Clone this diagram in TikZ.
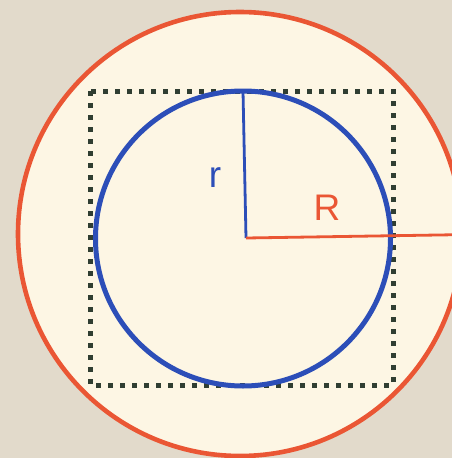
\documentclass[tikz,border=0pt]{standalone}
\usepackage{fontspec}
\setmainfont{Liberation Sans}
\usetikzlibrary{positioning}
\definecolor{bgbeige}{RGB}{226,218,203}
\definecolor{cream}{RGB}{253,246,228}
\definecolor{outerred}{RGB}{234,86,52}
\definecolor{innerblue}{RGB}{44,78,184}
\definecolor{squaregreen}{RGB}{48,62,50}

\begin{document}
\begin{tikzpicture}[
    x=1pt, y=-1pt,
    outer/.style={draw=outerred, fill=cream, line width=4.6pt},
    inner/.style={draw=innerblue, line width=5pt},
    square/.style={draw=squaregreen, line width=5pt, dash pattern=on 5pt off 7pt},
    radius line/.style={line width=2.8pt},
    lbl/.style={font=\fontsize{37}{37}\selectfont},
]
    % background and bounding box
    \fill[bgbeige] (0,0) rectangle (452,458);
    \useasboundingbox (0,0) rectangle (452,458);

    % centres and radius ends
    \coordinate (Obig) at (240,234);
    \coordinate (O) at (246,238);
    \coordinate (Rend) at (470,234.5);
    \coordinate (rend) at (243,91);

    % outer circle
    \path[outer] (Obig) circle[radius=222];

    % dotted square
    \path[square] (90,91) rectangle (393,385);

    % inner circle
    \path[inner] (243,238.5) circle[radius=147.5];

    % radii
    \draw[radius line, innerblue] (O) -- (rend);
    \draw[radius line, outerred] (O) -- (Rend);

    % labels
    \node[lbl, text=innerblue] (rlbl) at (215,178) {r};
    \node[lbl, text=outerred] (Rlbl) at (327,208) {R};
\end{tikzpicture}
\end{document}
